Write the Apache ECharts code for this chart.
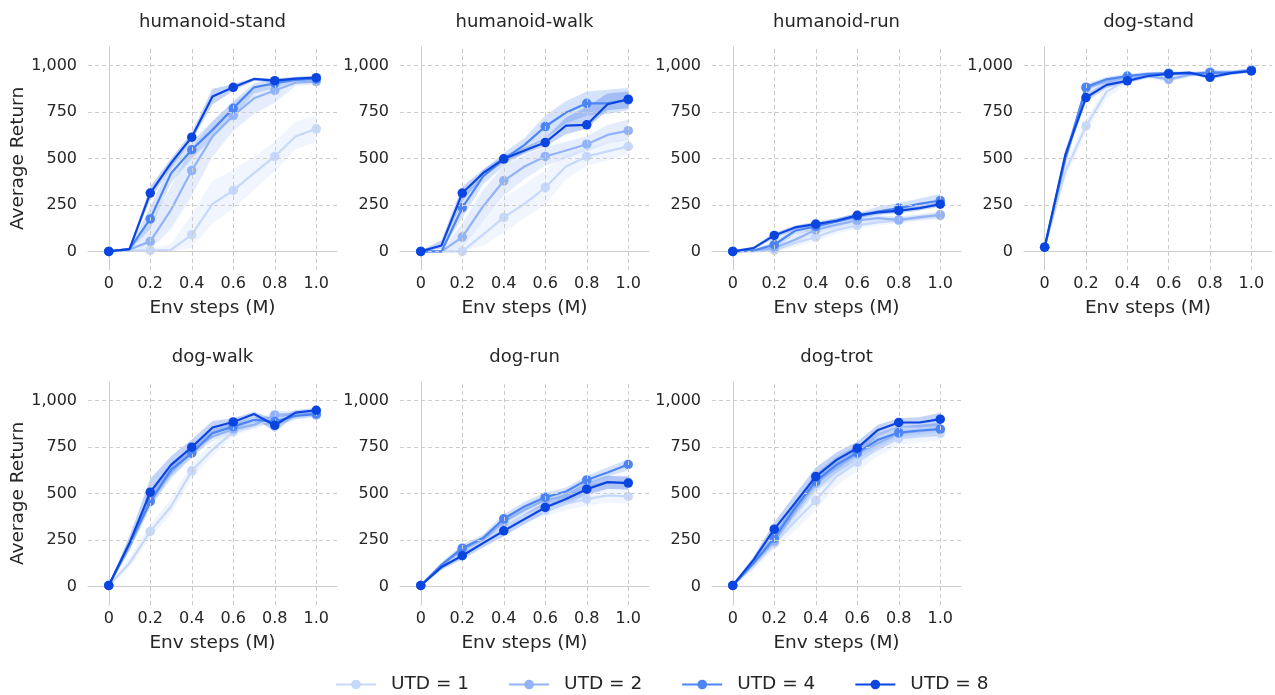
<!DOCTYPE html>
<html><head><meta charset="utf-8">
<script src="https://cdn.jsdelivr.net/npm/echarts@6/dist/echarts.min.js"></script>
<style>html,body{margin:0;padding:0;background:#fff}#c{width:1275px;height:695px}</style>
</head><body><div id="c"></div>
<script>
const steps = [0,0.1,0.2,0.3,0.4,0.5,0.6,0.7,0.8,0.9,1.0];
const utdNames = ['UTD = 1','UTD = 2','UTD = 4','UTD = 8'];
const utdColors = ['#c6d8fb','#92b3f8','#4c85f3','#0a45e0'];
const taskTitles = ['humanoid-stand','humanoid-walk','humanoid-run','dog-stand','dog-walk','dog-run','dog-trot'];
const xTicks = [0,0.2,0.4,0.6,0.8,1.0];
const yTicks = [0,250,500,750,1000];

// humanoid-stand
const hsU1 = [0,5,5,9,90,256,328,421,511,618,660];
const hsU1Lo = [0,0,0,0,20,150,230,330,430,550,590];
const hsU1Hi = [5,10,15,40,200,380,440,510,590,700,730];
const hsU2 = [0,10,54,224,435,618,731,824,866,908,914];
const hsU2Lo = [0,0,10,120,300,510,650,740,800,890,900];
const hsU2Hi = [5,20,150,350,560,700,800,880,910,930,930];
const hsU4 = [0,12,175,420,547,654,770,883,905,923,928];
const hsU4Lo = [0,5,120,370,500,610,720,850,880,910,915];
const hsU4Hi = [5,20,240,470,590,700,810,905,925,935,940];
const hsU8 = [0,12,314,475,615,833,883,928,919,930,935];
const hsU8Lo = [0,5,280,450,595,790,865,918,905,920,925];
const hsU8Hi = [5,20,350,500,640,875,900,935,930,940,945];

// humanoid-walk
const hwU1 = [0,0,0,90,183,256,344,457,511,538,565];
const hwU1Lo = [0,0,0,30,100,180,250,390,460,490,520];
const hwU1Hi = [5,5,20,160,290,360,440,520,560,580,610];
const hwU2 = [0,0,77,242,380,457,511,543,577,627,650];
const hwU2Lo = [0,0,20,160,300,390,460,500,540,580,600];
const hwU2Hi = [5,5,150,330,460,520,560,590,620,680,710];
const hwU4 = [0,0,235,403,496,573,672,747,797,797,815];
const hwU4Lo = [0,0,180,360,460,530,610,690,730,740,760];
const hwU4Hi = [5,5,290,440,530,610,730,810,860,870,880];
const hwU8 = [0,32,314,421,498,543,586,677,681,792,819];
const hwU8Lo = [0,15,270,400,480,525,565,630,660,760,770];
const hwU8Hi = [5,60,350,440,515,560,610,720,780,850,860];

// humanoid-run
const hrU1 = [0,0,5,45,77,116,140,156,167,179,192];
const hrU1Lo = [0,0,0,25,55,95,122,140,150,162,175];
const hrU1Hi = [5,5,15,65,100,135,158,172,183,196,210];
const hrU2 = [0,3,18,63,116,143,167,179,170,185,197];
const hrU2Lo = [0,0,5,45,95,125,150,160,155,170,180];
const hrU2Hi = [5,8,35,85,135,160,185,195,188,200,215];
const hrU4 = [0,5,36,111,134,161,188,215,233,256,274];
const hrU4Lo = [0,0,20,90,115,145,175,195,210,230,245];
const hrU4Hi = [5,10,55,130,150,178,205,240,260,285,310];
const hrU8 = [0,18,86,129,147,165,194,210,219,233,254];
const hrU8Lo = [0,10,70,115,135,155,180,200,205,220,240];
const hrU8Hi = [5,25,100,140,160,178,205,222,232,245,268];

// dog-stand
const dsU1 = [23,430,675,860,923,940,950,955,968,968,977];
const dsU1Lo = [15,390,640,820,905,928,938,945,958,958,968];
const dsU1Hi = [30,470,710,895,940,952,962,965,978,978,985];
const dsU2 = [23,490,878,914,937,944,926,950,962,962,977];
const dsU2Lo = [15,460,855,895,925,932,912,938,952,952,968];
const dsU2Hi = [30,520,898,930,950,955,940,960,972,972,985];
const dsU4 = [23,505,884,926,944,955,959,955,962,962,973];
const dsU4Lo = [15,475,865,912,932,945,950,945,952,952,965];
const dsU4Hi = [30,535,900,940,955,965,968,965,970,972,980];
const dsU8 = [23,520,828,896,918,944,955,962,937,959,971];
const dsU8Lo = [15,490,805,880,905,935,945,955,925,950,962];
const dsU8Hi = [30,550,850,910,930,952,965,970,948,968,980];

// dog-walk
const dwU1 = [5,125,296,430,622,735,833,869,900,918,923];
const dwU1Lo = [0,100,260,390,580,700,810,850,880,900,908];
const dwU1Hi = [10,155,335,470,665,770,855,888,918,935,938];
const dwU2 = [5,215,475,609,735,806,846,869,923,928,923];
const dwU2Lo = [0,185,440,575,700,780,825,850,900,912,910];
const dwU2Hi = [10,245,510,645,770,835,868,888,945,942,938];
const dwU4 = [5,230,457,627,717,824,860,896,887,918,928];
const dwU4Lo = [0,200,420,590,690,800,840,880,860,900,915];
const dwU4Hi = [10,260,500,665,750,850,880,910,910,935,940];
const dwU8 = [5,233,507,654,749,855,885,928,867,935,948];
const dwU8Lo = [0,200,440,610,710,820,860,910,830,920,935];
const dwU8Hi = [10,270,580,700,790,890,905,940,900,950,960];

// dog-run
const drU1 = [5,100,190,240,320,380,410,445,470,490,484];
const drU1Lo = [0,85,170,215,290,350,375,410,435,450,445];
const drU1Hi = [10,115,210,265,350,410,445,480,505,530,525];
const drU2 = [5,110,197,251,349,412,466,484,538,560,560];
const drU2Lo = [0,95,178,230,325,385,440,455,505,525,525];
const drU2Hi = [10,125,215,270,372,438,490,512,570,595,595];
const drU4 = [5,116,206,260,364,430,480,511,573,613,656];
const drU4Lo = [0,100,185,240,340,405,455,490,550,590,625];
const drU4Hi = [10,130,225,280,388,455,505,532,595,640,685];
const drU8 = [5,104,165,233,299,362,425,470,523,561,556];
const drU8Lo = [0,90,145,210,270,335,395,440,490,525,520];
const drU8Hi = [10,118,185,255,325,390,455,500,555,595,590];

// dog-trot
const dtU1 = [5,108,233,349,462,591,667,744,797,810,824];
const dtU1Lo = [0,90,200,300,410,540,620,700,760,775,785];
const dtU1Hi = [10,128,265,395,515,640,715,785,835,850,862];
const dtU2 = [5,125,242,403,556,636,713,771,824,835,846];
const dtU2Lo = [0,105,210,360,505,590,670,730,790,800,810];
const dtU2Hi = [10,145,275,445,600,680,755,810,858,868,880];
const dtU4 = [5,125,260,421,565,654,720,789,828,839,846];
const dtU4Lo = [0,108,230,380,520,610,680,750,795,805,810];
const dtU4Hi = [10,142,290,460,610,698,760,825,860,870,880];
const dtU8 = [5,143,308,448,591,681,744,842,882,882,900];
const dtU8Lo = [0,125,270,400,540,640,710,810,855,855,865];
const dtU8Hi = [10,160,345,495,640,720,780,870,905,910,935];

const taskMeans = [
  [hsU1,hsU2,hsU4,hsU8],[hwU1,hwU2,hwU4,hwU8],[hrU1,hrU2,hrU4,hrU8],[dsU1,dsU2,dsU4,dsU8],
  [dwU1,dwU2,dwU4,dwU8],[drU1,drU2,drU4,drU8],[dtU1,dtU2,dtU4,dtU8]];
const taskLo = [
  [hsU1Lo,hsU2Lo,hsU4Lo,hsU8Lo],[hwU1Lo,hwU2Lo,hwU4Lo,hwU8Lo],[hrU1Lo,hrU2Lo,hrU4Lo,hrU8Lo],[dsU1Lo,dsU2Lo,dsU4Lo,dsU8Lo],
  [dwU1Lo,dwU2Lo,dwU4Lo,dwU8Lo],[drU1Lo,drU2Lo,drU4Lo,drU8Lo],[dtU1Lo,dtU2Lo,dtU4Lo,dtU8Lo]];
const taskHi = [
  [hsU1Hi,hsU2Hi,hsU4Hi,hsU8Hi],[hwU1Hi,hwU2Hi,hwU4Hi,hwU8Hi],[hrU1Hi,hrU2Hi,hrU4Hi,hrU8Hi],[dsU1Hi,dsU2Hi,dsU4Hi,dsU8Hi],
  [dwU1Hi,dwU2Hi,dwU4Hi,dwU8Hi],[drU1Hi,drU2Hi,drU4Hi,drU8Hi],[dtU1Hi,dtU2Hi,dtU4Hi,dtU8Hi]];

const FONT = 'DejaVu Sans';
const TXT = '#262626';
const GRIDC = '#cccccc';
const colLeft = [88, 400, 712, 1024];
const rowTop = [47, 382];
const W = 249, H = 223;

function hexA(hex, a){
  const n = parseInt(hex.slice(1),16);
  return `rgba(${(n>>16)&255},${(n>>8)&255},${n&255},${a})`;
}

const grids=[], xAxes=[], yAxes=[], titles=[], series=[];
taskTitles.forEach((t,i)=>{
  const r = Math.floor(i/4), c = i%4;
  grids.push({left: colLeft[c], top: rowTop[r], width: W, height: H});
  titles.push({text: t, left: colLeft[c]+W/2, top: rowTop[r]-34, textAlign:'center', padding:0,
    textStyle:{fontFamily:FONT, fontSize:18, fontWeight:'normal', color:TXT}});
  xAxes.push({type:'value', gridIndex:i, min:-0.1, max:1.1, interval:0.1,
    name:'Env steps (M)', nameLocation:'middle', nameGap:29,
    nameTextStyle:{fontFamily:FONT, fontSize:18.5, color:TXT},
    axisLine:{show:true, lineStyle:{color:GRIDC, width:1}}, axisTick:{show:false},
    splitLine:{show:false},
    axisLabel:{fontFamily:FONT, fontSize:16, color:TXT, margin:6,
      formatter:v=>{const k=Math.round(v*10); if(k<0||k>10||k%2) return ''; return k===0?'0':(k/10).toFixed(1);}}});
  yAxes.push({type:'value', gridIndex:i, min:-100, max:1100, interval:50,
    name: c===0 ? 'Average Return' : '', nameLocation:'middle', nameGap:60,
    nameTextStyle:{fontFamily:FONT, fontSize:18.5, color:TXT},
    axisLine:{show:true, lineStyle:{color:GRIDC, width:1}}, axisTick:{show:false},
    splitLine:{show:false},
    axisLabel:{fontFamily:FONT, fontSize:16, color:TXT, margin:11,
      formatter:v=>(v>=0&&v<=1000&&v%250===0)?v.toLocaleString('en-US'):''}});
  series.push({type:'line', xAxisIndex:i, yAxisIndex:i, data:[], silent:true, z:0,
    markLine:{silent:true, symbol:'none', animation:false, label:{show:false},
      lineStyle:{color:GRIDC, type:[4,3], width:1},
      data:[...xTicks.map(x=>({xAxis:x})), ...yTicks.map(y=>({yAxis:y}))]}});
  for(let u=0;u<4;u++){
    const lo=taskLo[i][u], hi=taskHi[i][u];
    series.push({type:'custom', name:'band'+u, xAxisIndex:i, yAxisIndex:i, silent:true, z:1,
      data: steps.map((x,k)=>[x, lo[k], hi[k]]),
      encode:{x:0, y:[1,2]},
      renderItem:(params, api)=>{
        if(params.dataIndex!==0) return null;
        const up = steps.map((x,k)=>api.coord([x, hi[k]]));
        const dn = steps.map((x,k)=>api.coord([x, lo[k]])).reverse();
        return {type:'polygon', shape:{points: up.concat(dn)},
          style:{fill: hexA(utdColors[u], 0.24), stroke:'none'}};
      }});
  }
  for(let u=0;u<4;u++){
    series.push({type:'line', name:utdNames[u], xAxisIndex:i, yAxisIndex:i, z:2+u,
      data: steps.map((x,k)=>[x, taskMeans[i][u][k]]),
      symbol:'circle', showAllSymbol:true,
      symbolSize:(v,p)=> (p.dataIndex%2===0 ? 9.5 : 0),
      lineStyle:{color:utdColors[u], width:2.2}, itemStyle:{color:utdColors[u]},
      emphasis:{disabled:true}, animation:false});
  }
});

const chart = echarts.init(document.getElementById('c'), null, {renderer:'canvas'});
chart.setOption({
  backgroundColor:'#ffffff', animation:false,
  title: titles, grid: grids, xAxis: xAxes, yAxis: yAxes, series: series,
  legend:{data: utdNames, top: 675, left: 335, padding:0, itemWidth: 40, itemHeight: 12, itemGap: 39,
    textStyle:{fontFamily:FONT, fontSize:18.5, color:TXT, padding:[0,0,0,10]}}
});
</script></body></html>
